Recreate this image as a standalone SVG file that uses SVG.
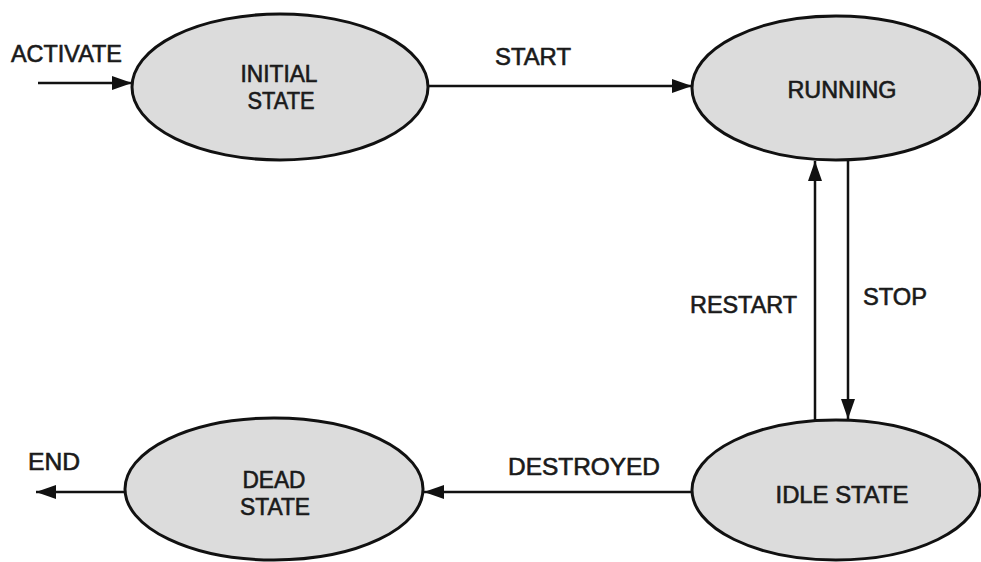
<svg xmlns="http://www.w3.org/2000/svg" width="981" height="562" viewBox="0 0 981 562">
<style>
.node ellipse{fill:#dcdcdc;stroke:#111;stroke-width:3}
.t{font-family:"Liberation Sans",Arial,sans-serif;font-size:23px;fill:#1a1a1a;stroke:#1a1a1a;stroke-width:0.6;text-anchor:middle}
.lbl{font-family:"Liberation Sans",Arial,sans-serif;font-size:23px;fill:#1a1a1a;stroke:#1a1a1a;stroke-width:0.6}
.edge{stroke:#111;stroke-width:2.5;fill:none;marker-end:url(#ah)}
</style>
<defs>
<marker id="ah" markerWidth="20" markerHeight="14" refX="20" refY="7" orient="auto" markerUnits="userSpaceOnUse">
<path d="M0,0 L20,7 L0,14 Z" fill="#111"/>
</marker>
</defs>
<rect width="981" height="562" fill="#fff"/>
<g id="connectors">
<line class="edge" x1="38" y1="83" x2="132" y2="83"/>
<line class="edge" x1="428" y1="86" x2="692" y2="86"/>
<line class="edge" x1="815" y1="420" x2="815" y2="161"/>
<line class="edge" x1="848" y1="161" x2="848" y2="419"/>
<line class="edge" x1="692" y1="492" x2="424" y2="492"/>
<line class="edge" x1="125" y1="492" x2="36" y2="492"/>
</g>
<g id="labels">
<text class="lbl" x="11" y="62" textLength="111" lengthAdjust="spacingAndGlyphs">ACTIVATE</text>
<text class="lbl" x="495" y="65" textLength="76" lengthAdjust="spacingAndGlyphs">START</text>
<text class="lbl" x="690" y="313" textLength="107" lengthAdjust="spacingAndGlyphs">RESTART</text>
<text class="lbl" x="863" y="305" textLength="64" lengthAdjust="spacingAndGlyphs">STOP</text>
<text class="lbl" x="508" y="475" textLength="152" lengthAdjust="spacingAndGlyphs">DESTROYED</text>
<text class="lbl" x="28" y="470" textLength="52" lengthAdjust="spacingAndGlyphs">END</text>
</g>
<g id="initial" class="node">
<ellipse cx="280" cy="87" rx="148" ry="73"/>
<text class="t" x="279" y="82" textLength="77" lengthAdjust="spacingAndGlyphs">INITIAL</text>
<text class="t" x="281" y="109" textLength="67" lengthAdjust="spacingAndGlyphs">STATE</text>
</g>
<g id="running" class="node">
<ellipse cx="836" cy="88" rx="144" ry="72"/>
<text class="t" x="842" y="98" textLength="109" lengthAdjust="spacingAndGlyphs">RUNNING</text>
</g>
<g id="idle" class="node">
<ellipse cx="836" cy="490" rx="144" ry="70"/>
<text class="t" x="842" y="503" textLength="133" lengthAdjust="spacingAndGlyphs">IDLE STATE</text>
</g>
<g id="dead" class="node">
<ellipse cx="274" cy="489" rx="149" ry="71"/>
<text class="t" x="274" y="488" textLength="63" lengthAdjust="spacingAndGlyphs">DEAD</text>
<text class="t" x="275" y="515" textLength="70" lengthAdjust="spacingAndGlyphs">STATE</text>
</g>
</svg>
